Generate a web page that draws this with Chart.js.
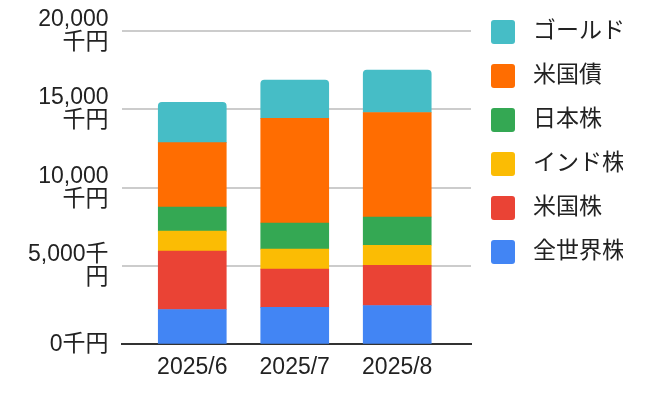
<!DOCTYPE html>
<html>
<head>
<meta charset="utf-8">
<script src="https://cdn.jsdelivr.net/npm/chart.js@4"></script>
<style>
  html, body { margin: 0; padding: 0; background: #fff; }
  #wrap { width: 648px; height: 398px; }
</style>
</head>
<body>
<div id="wrap"><canvas id="chart"></canvas></div>
<script>
// months
const categories = ["2025/6", "2025/7", "2025/8"];

// 千円, bottom to top
const zenSekai = [2230, 2360, 2480];   // 全世界株
const beiKoku = [3720, 2440, 2570];    // 米国株
const india = [1280, 1280, 1280];      // インド株
const nihon = [1540, 1670, 1800];      // 日本株
const beiSai = [4110, 6670, 6670];     // 米国債
const gold = [2570, 2440, 2700];       // ゴールド

const yTickLabels = {
    0: "0千円",
    5000: ["5,000千", "円"],
    10000: ["10,000", "千円"],
    15000: ["15,000", "千円"],
    20000: ["20,000", "千円"]
};

const fontFamily = "'Liberation Sans', Arial, 'Noto Sans CJK JP', sans-serif";

let toPoints = arr => arr.map((v, i) => ({ x: i, y: v }));

let chartContext = document.getElementById("chart").getContext("2d");

const stackChart = new Chart(chartContext, {
    type: 'bar',
    data: {
        datasets: [{
            label: "全世界株",
            data: toPoints(zenSekai),
            backgroundColor: "#4285F4",
        }, {
            label: "米国株",
            data: toPoints(beiKoku),
            backgroundColor: "#EA4335",
        }, {
            label: "インド株",
            data: toPoints(india),
            backgroundColor: "#FBBC04",
        }, {
            label: "日本株",
            data: toPoints(nihon),
            backgroundColor: "#34A853",
        }, {
            label: "米国債",
            data: toPoints(beiSai),
            backgroundColor: "#FF6D01",
        }, {
            label: "ゴールド",
            data: toPoints(gold),
            backgroundColor: "#46BDC6",
            borderRadius: { topLeft: 4, topRight: 4 },
            borderSkipped: false,
        }]
    },
    options: {
        responsive: true,
        maintainAspectRatio: false,
        animation: false,
        barThickness: 68,
        layout: {
            padding: { left: 15, right: 25, top: 0, bottom: 8 }
        },
        scales: {
            x: {
                type: 'linear',
                stacked: true,
                offset: false,
                min: -0.69,
                max: 2.72,
                afterBuildTicks: scale => {
                    scale.ticks = categories.map((c, i) => ({ value: i }));
                },
                grid: { display: false, drawTicks: false, offset: false },
                border: { display: true, color: "#333", width: 2 },
                ticks: {
                    padding: 9,
                    color: "#222",
                    font: { family: fontFamily, size: 23 },
                    callback: v => categories[v]
                }
            },
            y: {
                stacked: true,
                min: 0,
                max: 20000,
                afterFit: scale => { scale.paddingTop = 31; },
                grid: {
                    drawTicks: false,
                    lineWidth: 2,
                    color: ctx => ctx.tick && ctx.tick.value === 0 ? "#333" : "#ccc"
                },
                border: { display: false },
                ticks: {
                    stepSize: 5000,
                    padding: 13,
                    color: "#222",
                    font: { family: fontFamily, size: 23, lineHeight: 1.0 },
                    callback: v => yTickLabels[v]
                }
            }
        },
        plugins: {
            tooltip: { enabled: false },
            legend: {
                position: 'right',
                align: 'start',
                reverse: true,
                labels: {
                    boxWidth: 24,
                    boxHeight: 24,
                    padding: 20,
                    useBorderRadius: true,
                    borderRadius: 3,
                    color: "#222",
                    font: { family: fontFamily, size: 23 },
                    generateLabels: chart => {
                        let items = Chart.defaults.plugins.legend.labels.generateLabels(chart);
                        items.forEach(it => { it.text = " " + it.text; });
                        return items;
                    }
                }
            }
        }
    }
});
</script>
</body>
</html>
